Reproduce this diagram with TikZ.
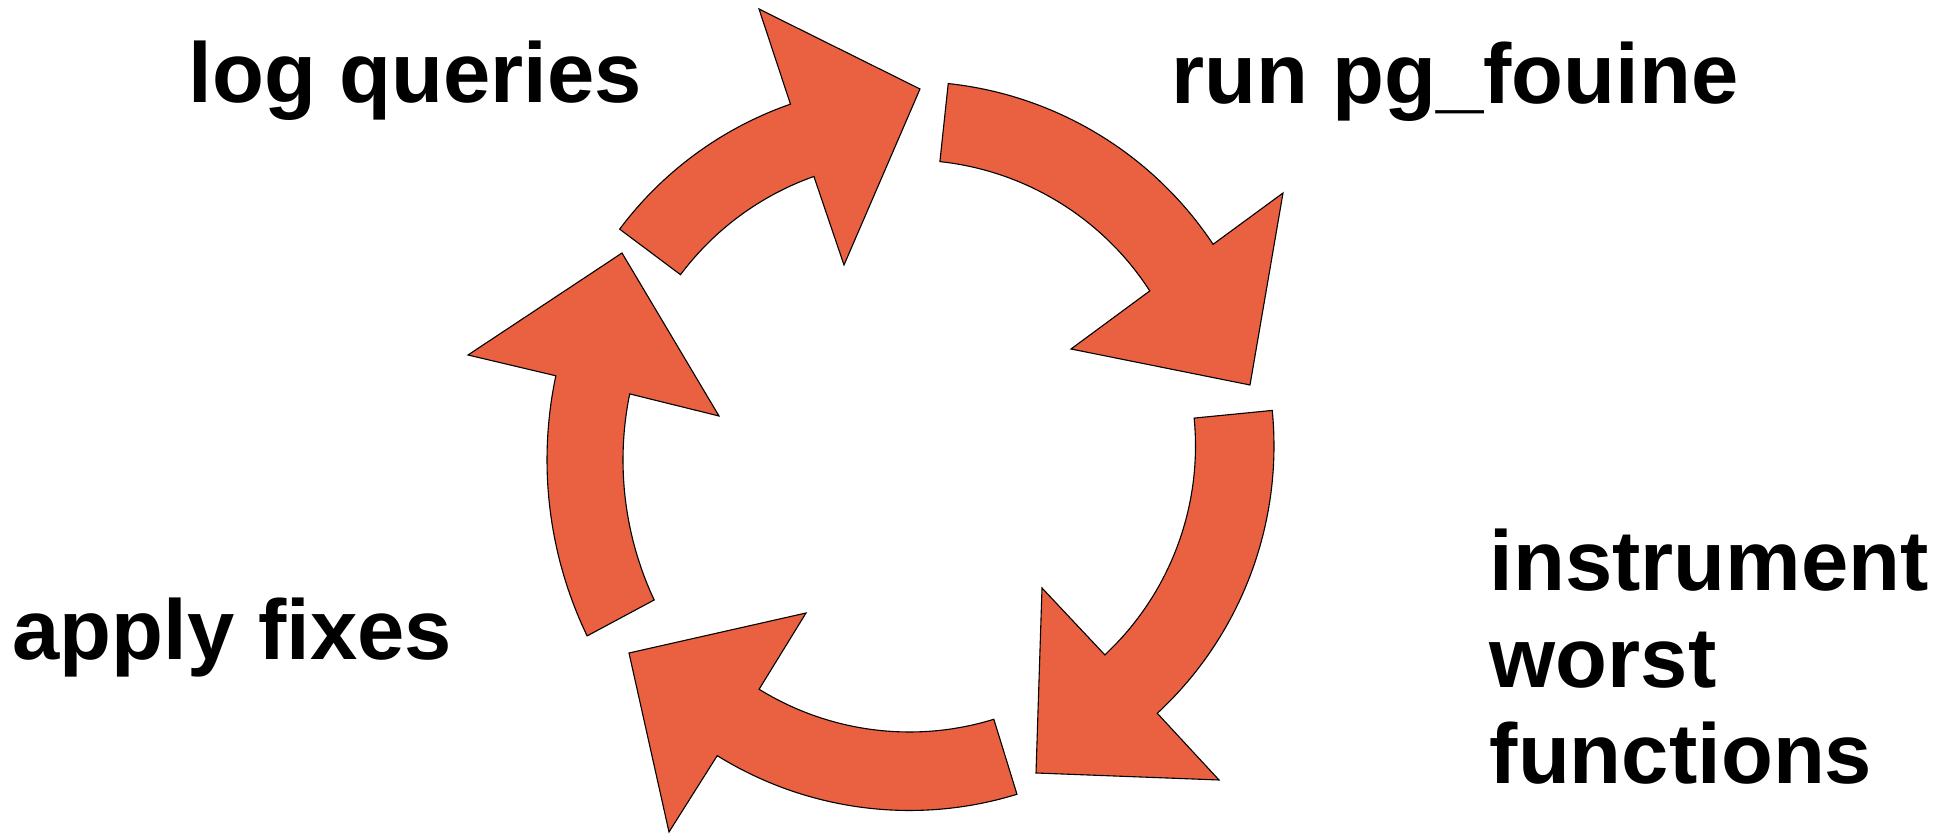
\documentclass[tikz,border=0pt]{standalone}
\usepackage{fontspec}
\setmainfont{Liberation Sans}
\usetikzlibrary{calc}
\definecolor{arrowfill}{RGB}{233,97,64}
\begin{document}
\begin{tikzpicture}[x=1pt,y=1pt,
  arrowshape/.style={fill=arrowfill, draw=black, line width=1.1pt, line join=miter},
  txt/.style={inner sep=0pt, anchor=base west, font=\fontsize{85}{96}\selectfont\bfseries}]
\useasboundingbox (0,0) rectangle (1957,833);
\coordinate (C) at (909.5,387);
\coordinate (CL) at (953,373);
% right arrow (run pg_fouine)
\draw[arrowshape] ($(C)+(83.9:364.5pt)$) arc[start angle=83.9, end angle=33.6, radius=364.5pt]
  -- (1283,640) -- (1250,448) -- (1071,484)
  -- ($(C)+(32.84:286pt)$) arc[start angle=32.84, end angle=83.9, radius=286pt] -- cycle;
% lower right arrow (instrument)
\draw[arrowshape] ($(C)+(5.6:364.5pt)$) arc[start angle=5.6, end angle=-47.17, radius=364.5pt]
  -- (1219,53) -- (1036,60) -- (1042,245)
  -- ($(C)+(-46.92:286pt)$) arc[start angle=-46.92, end angle=5.6, radius=286pt] -- cycle;
% bottom arrow
\draw[arrowshape] ($(C)+(-72.85:364.5pt)$) arc[start angle=-72.85, end angle=-121.84, radius=364.5pt]
  -- (669,1) -- (629,180) -- (806,220)
  -- ($(C)+(-121.73:286pt)$) arc[start angle=-121.73, end angle=-72.85, radius=286pt] -- cycle;
% left arrow
\draw[arrowshape] ($(CL)+(205.68:406pt)$) arc[start angle=205.68, end angle=168.03, radius=406pt]
  -- (468,478) -- (622,580) -- (719,417)
  -- ($(CL)+(168.45:330pt)$) arc[start angle=168.45, end angle=205.1, radius=330pt] -- cycle;
% top left arrow (log queries)
\draw[arrowshape] ($(C)+(143.2:362pt)$) arc[start angle=143.2, end angle=109.2, radius=362pt]
  -- (759,824) -- (920,744) -- (844,568)
  -- ($(C)+(109.53:286pt)$) arc[start angle=109.53, end angle=143.2, radius=286pt] -- cycle;
% labels
\node[txt] (logq) at (188.5,730) {log queries};
\node[txt] (runpg) at (1171.5,729) {run pg\_fouine};
\node[txt] (inst1) at (1489.5,242) {instrument};
\node[txt] (inst2) at (1489.5,146) {worst};
\node[txt] (inst3) at (1489.5,50) {functions};
\node[txt] (apply) at (12.5,173) {apply fixes};
\end{tikzpicture}
\end{document}
